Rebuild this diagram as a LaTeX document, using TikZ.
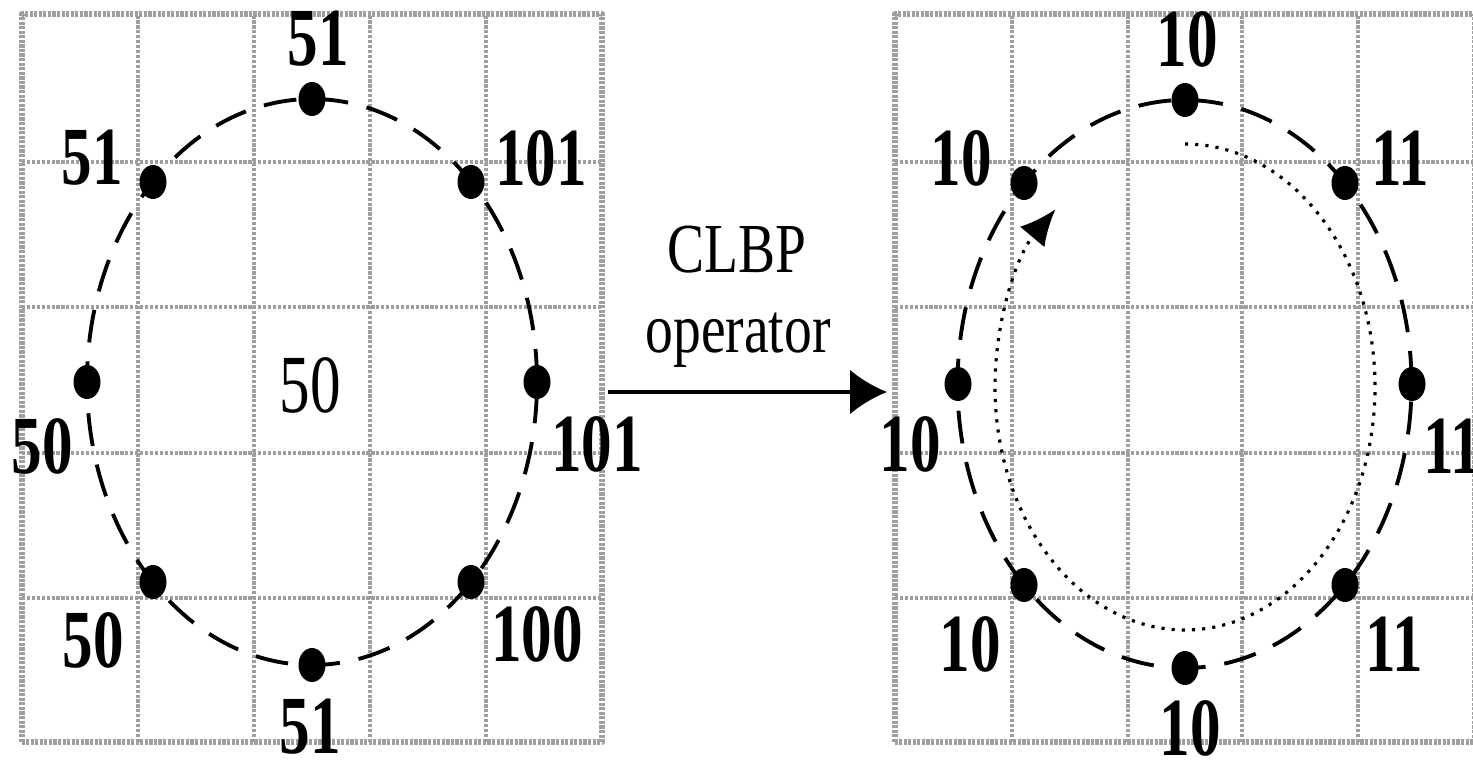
\documentclass[tikz,border=0pt]{standalone}
\usepackage{fontspec}
\setmainfont{Liberation Serif}
\newfontfamily\valfont[FakeStretch=0.74]{Liberation Serif}
\newfontfamily\opfont[FakeStretch=0.79]{Liberation Serif}
\usetikzlibrary{arrows.meta, shapes.geometric}

\tikzset{
  gridline/.style={gray!75, line width=1pt, dash pattern=on 0.9pt off 0.5pt},
  gridframe/.style={gray!75, line width=1.8pt, dash pattern=on 0.9pt off 0.4pt},
  pixel/.style={ellipse, fill=black, inner sep=0pt, minimum width=0.27cm, minimum height=0.34cm},
  val/.style={font=\fontsize{23.5}{24}\valfont\bfseries, inner sep=0pt},
  optext/.style={font=\fontsize{20}{22}\opfont},
  ring/.style={line width=1.1pt, dash pattern=on 0.33cm off 0.19cm},
}

\begin{document}
\begin{tikzpicture}[line join=round]
\useasboundingbox (0,0) rectangle (14.73,7.59);
% left grid
\draw[gridline] (1.38,0.17) -- (1.38,7.45) (2.54,0.17) -- (2.54,7.45)
  (3.70,0.17) -- (3.70,7.45) (4.86,0.17) -- (4.86,7.45);
\draw[gridline] (0.22,5.97) -- (6.02,5.97) (0.22,4.52) -- (6.02,4.52)
  (0.22,3.06) -- (6.02,3.06) (0.22,1.61) -- (6.02,1.61);
\draw[gridframe] (0.22,0.17) rectangle (6.02,7.45);
% right grid
\draw[gridline] (10.12,0.17) -- (10.12,7.45) (11.28,0.17) -- (11.28,7.45)
  (12.42,0.17) -- (12.42,7.45) (13.58,0.17) -- (13.58,7.45);
\draw[gridline] (8.95,5.97) -- (14.75,5.97) (8.95,4.52) -- (14.75,4.52)
  (8.95,3.06) -- (14.75,3.06) (8.95,1.61) -- (14.75,1.61);
\draw[gridframe] (8.95,0.17) rectangle (14.75,7.45);

% sampling circles
\draw[ring] (3.12,3.77) ellipse [x radius=2.25, y radius=2.83];
\draw[ring] (11.845,3.75) ellipse [x radius=2.27, y radius=2.84];
\draw[line width=0.9pt, dotted, -{Latex[length=0.36cm, width=0.32cm]}]
  (11.85,6.15) arc [start angle=90, end angle=-227, x radius=1.9, y radius=2.43];

% left neighbours
\node[pixel] (l0) at (5.37,3.77) {};
\node[pixel] (l1) at (4.71,5.77) {};
\node[pixel] (l2) at (3.12,6.60) {};
\node[pixel] (l3) at (1.53,5.77) {};
\node[pixel] (l4) at (0.87,3.77) {};
\node[pixel] (l5) at (1.53,1.77) {};
\node[pixel] (l6) at (3.12,0.94) {};
\node[pixel] (l7) at (4.71,1.77) {};
\node[val] (lv0) at (5.97,3.15) {101};
\node[val] (lv1) at (5.41,6.01) {101};
\node[val] (lv2) at (3.18,7.20) {51};
\node[val] (lv3) at (0.92,6.01) {51};
\node[val] (lv4) at (0.42,3.13) {50};
\node[val] (lv5) at (0.93,1.19) {50};
\node[val] (lv6) at (3.10,0.32) {51};
\node[val] (lv7) at (5.37,1.25) {100};
\node[val, font=\fontsize{23.5}{24}\valfont] (lc) at (3.10,3.74) {50};

% right neighbours
\node[pixel] (r0) at (14.12,3.75) {};
\node[pixel] (r1) at (13.45,5.76) {};
\node[pixel] (r2) at (11.85,6.59) {};
\node[pixel] (r3) at (10.24,5.76) {};
\node[pixel] (r4) at (9.58,3.75) {};
\node[pixel] (r5) at (10.24,1.74) {};
\node[pixel] (r6) at (11.85,0.91) {};
\node[pixel] (r7) at (13.45,1.74) {};
\node[val] (rv0) at (14.52,3.13) {11};
\node[val] (rv1) at (14.00,6.01) {11};
\node[val] (rv2) at (11.87,7.20) {10};
\node[val] (rv3) at (9.61,6.01) {10};
\node[val] (rv4) at (9.10,3.15) {10};
\node[val] (rv5) at (9.70,1.15) {10};
\node[val] (rv6) at (11.90,0.31) {10};
\node[val] (rv7) at (13.94,1.15) {11};

% operator
\coordinate (from) at (6.08,3.67);
\coordinate (to) at (8.87,3.67);
\draw[line width=1.1pt, -{Latex[length=0.37cm, width=0.45cm]}] (from) -- (to);
\node[optext] (clbp) at (7.37,5.09) {CLBP};
\node[optext] (oper) at (7.38,4.19) {operator};
\end{tikzpicture}
\end{document}
